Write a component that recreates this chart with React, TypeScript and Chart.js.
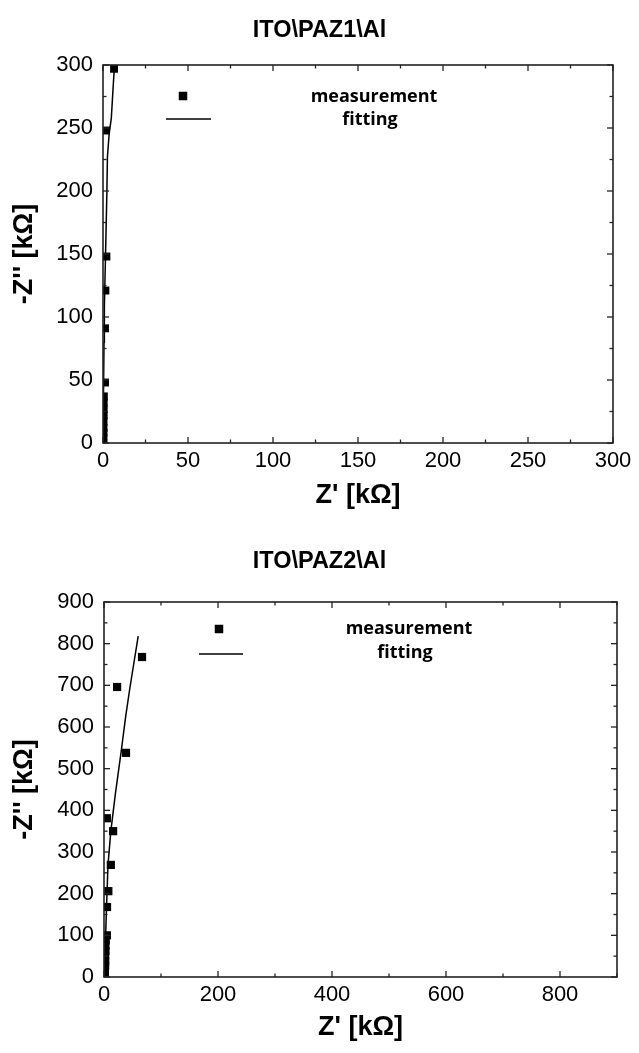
import React, { useEffect, useRef } from 'react';
import { Chart, registerables } from 'chart.js';

Chart.register(...registerables);

// ---------- Data: ITO\PAZ1\Al ----------
const paz1Title = 'ITO\\PAZ1\\Al';
const paz1MeasX = [0.2, 0.2, 0.3, 0.3, 0.3, 0.4, 0.4, 0.4, 0.5, 1.2, 1.2, 1.4, 2.0, 1.8, 6.5];
const paz1MeasY = [1, 4, 8, 12, 17, 22, 27, 32, 37, 48, 91, 121, 148, 248, 297];
const paz1FitX = [0, 0.3, 0.6, 0.8, 1.5, 2.3, 2.6, 3.6, 4.9, 6.3, 6.8];
const paz1FitY = [0, 40, 80, 108, 150, 200, 227, 245, 258, 290, 300];
const paz1XTicks = [0, 50, 100, 150, 200, 250, 300];
const paz1YTicks = [0, 50, 100, 150, 200, 250, 300];

// ---------- Data: ITO\PAZ2\Al ----------
const paz2Title = 'ITO\\PAZ2\\Al';
const paz2MeasX = [1, 1.5, 1.5, 2, 2, 2, 2.5, 2.5, 3, 5, 5.3, 7.6, 12, 16, 5, 38.6, 23, 66.7];
const paz2MeasY = [3, 10, 18, 28, 38, 50, 62, 75, 88, 100, 168, 206, 269, 350, 381, 538, 696, 768];
const paz2FitX = [0, 2, 4, 7, 12, 20, 30, 38, 45, 52, 60];
const paz2FitY = [0, 60, 150, 269, 350, 440, 540, 625, 690, 750, 818];
const paz2XTicks = [0, 200, 400, 600, 800];
const paz2XMax = 900;
const paz2YTicks = [0, 100, 200, 300, 400, 500, 600, 700, 800, 900];

const legendLabels = ['measurement', 'fitting'];
const xTitle = "Z' [kΩ]";
const yTitle = "-Z'' [kΩ]";

const zip = (xs: number[], ys: number[]) => xs.map((x, i) => ({ x, y: ys[i] }));

const framePlugin = {
  id: 'frameTicks',
  afterDatasetsDraw(chart: any, _args: any, opts: any) {
    const { ctx, chartArea: a, scales } = chart;
    const xs = scales.x;
    const ys = scales.y;
    ctx.save();
    ctx.strokeStyle = '#222';
    ctx.lineWidth = 1.6;
    ctx.strokeRect(a.left, a.top, a.right - a.left, a.bottom - a.top);
    ctx.lineWidth = 1.3;
    const seg = (x1: number, y1: number, x2: number, y2: number) => {
      ctx.beginPath();
      ctx.moveTo(x1, y1);
      ctx.lineTo(x2, y2);
      ctx.stroke();
    };
    const major = 6;
    const minor = 3.5;
    const xStep = opts.xStep;
    const yStep = opts.yStep;
    for (let i = 0; xs.min + i * (xStep / 2) <= xs.max + 1e-9; i++) {
      const v = xs.min + i * (xStep / 2);
      const L = i % 2 === 0 ? major : minor;
      const p = xs.getPixelForValue(v);
      seg(p, a.bottom, p, a.bottom - L);
      seg(p, a.top, p, a.top + L);
    }
    for (let i = 0; ys.min + i * (yStep / 2) <= ys.max + 1e-9; i++) {
      const v = ys.min + i * (yStep / 2);
      const L = i % 2 === 0 ? major : minor;
      const p = ys.getPixelForValue(v);
      seg(a.left, p, a.left + L, p);
      seg(a.right, p, a.right - L, p);
    }
    ctx.restore();
  },
};

const legendPlugin = {
  id: 'insetLegend',
  afterDraw(chart: any, _args: any, opts: any) {
    const { ctx, chartArea: a } = chart;
    ctx.save();
    const mx = a.left + opts.markerDx;
    const my = a.top + opts.markerDy;
    const s = opts.markerSize;
    ctx.fillStyle = '#000';
    ctx.fillRect(mx - s / 2, my - s / 2, s, s);
    ctx.strokeStyle = '#000';
    ctx.lineWidth = 1.5;
    ctx.beginPath();
    ctx.moveTo(a.left + opts.lineX1, a.top + opts.lineDy);
    ctx.lineTo(a.left + opts.lineX2, a.top + opts.lineDy);
    ctx.stroke();
    ctx.font = `bold ${opts.fontSize}px "Open Sans", "DejaVu Sans", sans-serif`;
    ctx.textAlign = 'center';
    ctx.textBaseline = 'middle';
    ctx.fillText(legendLabels[0], a.left + opts.text1Dx, a.top + opts.text1Dy);
    ctx.fillText(legendLabels[1], a.left + opts.text2Dx, a.top + opts.text2Dy);
    ctx.restore();
  },
};

const titlePlugin = {
  id: 'topTitle',
  afterDraw(chart: any, _args: any, opts: any) {
    const { ctx, width } = chart;
    ctx.save();
    ctx.fillStyle = '#000';
    ctx.font = `bold ${opts.size}px "Liberation Sans", Arial, sans-serif`;
    ctx.textAlign = 'center';
    ctx.textBaseline = 'middle';
    ctx.fillText(opts.text, width / 2 + opts.dx, opts.y);
    ctx.restore();
  },
};

type Cfg = {
  title: string;
  titleY: number;
  measX: number[];
  measY: number[];
  fitX: number[];
  fitY: number[];
  xTicks: number[];
  xMax: number;
  yTicks: number[];
  height: number;
  topPad: number;
  rightPad: number;
  yWidth: number;
  xHeight: number;
  xTitleBottom: number;
  markerRadius: number;
  legend: any;
};

function Plot({ cfg }: { cfg: Cfg }) {
  const ref = useRef<HTMLCanvasElement | null>(null);
  useEffect(() => {
    if (!ref.current) return;
    const xStep = cfg.xTicks[1] - cfg.xTicks[0];
    const yStep = cfg.yTicks[1] - cfg.yTicks[0];
    const yMax = cfg.yTicks[cfg.yTicks.length - 1];
    const tickFont = { family: '"Liberation Sans", Arial, sans-serif', size: 22 };
    const axisTitleFont = { family: '"Liberation Sans", Arial, sans-serif', size: 27, weight: 'bold' as const };
    const chart = new Chart(ref.current, {
      type: 'scatter',
      data: {
        datasets: [
          {
            type: 'line',
            data: zip(cfg.fitX, cfg.fitY),
            borderColor: '#000',
            borderWidth: 1.5,
            pointRadius: 0,
            fill: false,
            tension: 0,
          } as any,
          {
            data: zip(cfg.measX, cfg.measY),
            pointStyle: 'rect',
            pointRadius: cfg.markerRadius,
            backgroundColor: '#000',
            borderColor: '#000',
            borderWidth: 0,
            clip: 0,
          } as any,
        ],
      },
      options: {
        responsive: false,
        animation: false,
        devicePixelRatio: 1,
        layout: { padding: { left: 0, right: cfg.rightPad, top: cfg.topPad, bottom: 0 } },
        plugins: {
          legend: { display: false },
          tooltip: { enabled: false },
          title: { display: false },
          frameTicks: { xStep, yStep },
          insetLegend: cfg.legend,
          topTitle: { text: cfg.title, y: cfg.titleY, size: 23.5, dx: 0 },
        } as any,
        scales: {
          x: {
            type: 'linear',
            min: 0,
            max: cfg.xMax,
            grid: { display: false, drawTicks: false },
            border: { display: false },
            ticks: {
              stepSize: xStep,
              includeBounds: false,
              color: '#000',
              font: tickFont,
              padding: 5,
              maxRotation: 0,
            },
            title: {
              display: true,
              text: xTitle,
              color: '#000',
              font: axisTitleFont,
              padding: { top: 0, bottom: cfg.xTitleBottom },
            },
            afterFit: (s: any) => {
              s.height = cfg.xHeight;
            },
          },
          y: {
            type: 'linear',
            min: 0,
            max: yMax,
            grid: { display: false, drawTicks: false },
            border: { display: false },
            ticks: {
              stepSize: yStep,
              color: '#000',
              font: tickFont,
              padding: 10,
            },
            title: {
              display: true,
              text: yTitle,
              color: '#000',
              font: axisTitleFont,
              padding: { top: 8, bottom: 0 },
            },
            afterFit: (s: any) => {
              s.width = cfg.yWidth;
            },
          },
        },
      },
      plugins: [framePlugin, legendPlugin, titlePlugin],
    });
    return () => chart.destroy();
  }, [cfg]);
  return <canvas ref={ref} width={639} height={cfg.height} style={{ display: 'block', width: 639, height: cfg.height }} />;
}

const cfg1: Cfg = {
  title: paz1Title,
  titleY: 31,
  measX: paz1MeasX,
  measY: paz1MeasY,
  fitX: paz1FitX,
  fitY: paz1FitY,
  xTicks: paz1XTicks,
  xMax: paz1XTicks[paz1XTicks.length - 1],
  yTicks: paz1YTicks,
  height: 526,
  topPad: 65,
  rightPad: 26,
  yWidth: 103,
  xHeight: 83,
  xTitleBottom: 14,
  markerRadius: 5.6,
  legend: {
    markerDx: 80, markerDy: 31, markerSize: 8.5,
    lineX1: 63, lineX2: 108, lineDy: 54,
    text1Dx: 271, text1Dy: 32, text2Dx: 267, text2Dy: 55,
    fontSize: 18,
  },
};

const cfg2: Cfg = {
  title: paz2Title,
  titleY: 36,
  measX: paz2MeasX,
  measY: paz2MeasY,
  fitX: paz2FitX,
  fitY: paz2FitY,
  xTicks: paz2XTicks,
  xMax: paz2XMax,
  yTicks: paz2YTicks,
  height: 527,
  topPad: 76,
  rightPad: 22,
  yWidth: 104,
  xHeight: 76,
  xTitleBottom: 9,
  markerRadius: 5.8,
  legend: {
    markerDx: 115, markerDy: 27, markerSize: 8.5,
    lineX1: 95, lineX2: 139, lineDy: 52,
    text1Dx: 305, text1Dy: 27, text2Dx: 301, text2Dy: 51,
    fontSize: 18,
  },
};

export default function App() {
  return (
    <div style={{ position: 'absolute', left: 0, top: 0, width: 639, height: 1053, background: '#fff' }}>
      <Plot cfg={cfg1} />
      <Plot cfg={cfg2} />
    </div>
  );
}
